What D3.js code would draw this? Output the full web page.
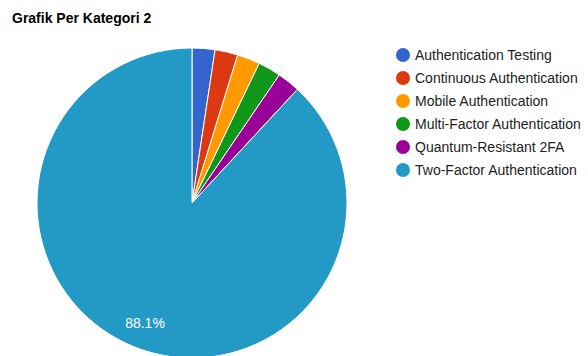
<!DOCTYPE html>
<html>
<head>
<meta charset="utf-8">
<script src="https://cdn.jsdelivr.net/npm/d3@7"></script>
<style>
  body { margin: 0; background: #fff; }
  text { font-family: Arial, "Liberation Sans", sans-serif; }
</style>
</head>
<body>
<div id="vis"></div>
<script>
// Categories and values
var categories = ['Authentication Testing', 'Continuous Authentication', 'Mobile Authentication',
    'Multi-Factor Authentication', 'Quantum-Resistant 2FA', 'Two-Factor Authentication'];
var values = [1, 1, 1, 1, 1, 37];
var colors = ['#3366cc', '#dc3912', '#ff9900', '#109618', '#990099', '#2399c5'];

var width = 588, height = 356;
var cx = 192, cy = 203, radius = 155;

var svg = d3.select('#vis').append('svg')
    .attr('width', width)
    .attr('height', height);

// Chart title
svg.append('text')
    .attr('x', 12)
    .attr('y', 23)
    .style('font-size', '14px')
    .style('font-weight', 'bold')
    .text('Grafik Per Kategori 2');

var data = categories.map(function(c, i) { return {name: c, value: values[i], color: colors[i]}; });
var total = d3.sum(values);

var pie = d3.pie().sort(null).value(function(d) { return d.value; });
var arc = d3.arc().innerRadius(0).outerRadius(radius);
var labelArc = d3.arc().innerRadius(radius * 0.83).outerRadius(radius * 0.83);

var g = svg.append('g').attr('transform', 'translate(' + cx + ',' + cy + ')');

var slices = g.selectAll('path').data(pie(data)).enter();

slices.append('path')
    .attr('d', arc)
    .attr('fill', function(d) { return d.data.color; })
    .attr('stroke', '#fff')
    .attr('stroke-width', 1);

// Percent labels only where the slice is big enough
slices.filter(function(d) { return d.data.value / total > 0.05; })
    .append('text')
    .attr('transform', function(d) { return 'translate(' + labelArc.centroid(d) + ')'; })
    .attr('text-anchor', 'middle')
    .attr('dy', '0.35em')
    .style('font-size', '14px')
    .attr('fill', '#fff')
    .text(function(d) { return d3.format('.1%')(d.data.value / total); });

// Legend
var legend = svg.append('g').selectAll('g').data(data).enter().append('g')
    .attr('transform', function(d, i) { return 'translate(403,' + (55 + i * 23) + ')'; });

legend.append('circle')
    .attr('r', 7)
    .attr('fill', function(d) { return d.color; });

legend.append('text')
    .attr('x', 12)
    .attr('dy', '0.35em')
    .style('font-size', '14px')
    .attr('fill', '#222')
    .text(function(d) { return d.name; });
</script>
</body>
</html>
